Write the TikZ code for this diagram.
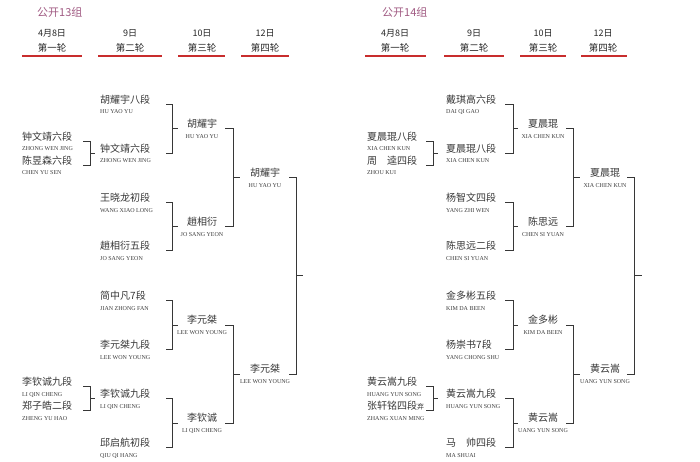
\documentclass[tikz,border=0pt]{standalone}
\usepackage{fontspec}
\setmainfont{Liberation Serif}
\newfontfamily\cjk{Noto Sans CJK SC}
\usetikzlibrary{calc}
\definecolor{titlec}{RGB}{160,90,130}
\definecolor{linec}{RGB}{55,55,55}
\definecolor{redc}{RGB}{200,45,45}
\definecolor{txtc}{RGB}{55,55,55}
\definecolor{pyc}{RGB}{60,60,60}
\tikzset{
 cn/.style={inner sep=0pt, font=\cjk\fontsize{10}{10}\selectfont, text=txtc, text height=8.3pt, text depth=0.7pt},
 py/.style={inner sep=0pt, font=\fontsize{6}{6}\selectfont, text=pyc, text height=4pt, text depth=0pt},
 br/.style={draw=linec, line width=1pt},
 ul/.style={draw=redc, line width=1.6pt},
 hd/.style={inner sep=0pt, font=\cjk\fontsize{9}{9}\selectfont, text=black!85},
 ttl/.style={inner sep=0pt, anchor=west, font=\cjk\fontsize{11}{11}\selectfont, text=titlec},
}
% name, x, line y, anchor, chinese, pinyin
\newcommand\plr[6]{%
 \node[cn,anchor=#4] (#1) at (#2,#3-5) {#5};
 \node[py,anchor=#4] (#1p) at (#2,#3+7.5) {#6};}
% coordA, coordB, dx, tick
\newcommand\brk[4]{%
 \draw[br] (#1) -- ++(#3,0) |- (#2);
 \draw[br] ($(#1)!.5!(#2)+(#3,0)$) -- ++(#4,0);}
\begin{document}
\begin{tikzpicture}[x=1pt,y=-1pt]
\useasboundingbox (0,0) rectangle (700,462);
% ---------- titles ----------
\node[ttl] (t13) at (37,12) {公开13组};
\node[ttl] (t14) at (382,12) {公开14组};
% ---------- headers ----------
\foreach \n/\cx/\xa/\xb/\d/\r in {a/52/22/82/4月8日/第一轮, b/130/98/162/9日/第二轮, c/202/178/225/10日/第三轮, d/265/241/289/12日/第四轮}{
 \node[hd] (hl\n) at (\cx,33) {\d};
 \node[hd,font=\cjk\fontsize{9.5}{9.5}\selectfont] (rl\n) at (\cx,48) {\r};
 \draw[ul] (\xa,56) -- (\xb,56);
}
\foreach \n/\cx/\xa/\xb/\d/\r in {a/395/365/426/4月8日/第一轮, b/474/444/504/9日/第二轮, c/543/520/566/10日/第三轮, d/603/581/627/12日/第四轮}{
 \node[hd] (hr\n) at (\cx,33) {\d};
 \node[hd,font=\cjk\fontsize{9.5}{9.5}\selectfont] (rr\n) at (\cx,48) {\r};
 \draw[ul] (\xa,56) -- (\xb,56);
}
% ================= LEFT PANEL =================
% round 1
\plr{La1}{22}{141.5}{west}{钟文靖六段}{ZHONG WEN JING}
\plr{La2}{22}{165.5}{west}{陈昱森六段}{CHEN YU SEN}
\plr{La3}{22}{386.5}{west}{李钦诚九段}{LI QIN CHENG}
\plr{La4}{22}{410.5}{west}{郑子皓二段}{ZHENG YU HAO}
\coordinate (cLa1) at (83,141.5);
\coordinate (cLa2) at (83,165.5);
\coordinate (cLa3) at (83,386.5);
\coordinate (cLa4) at (83,410.5);
\brk{cLa1}{cLa2}{7}{5}
\brk{cLa3}{cLa4}{7}{5}
% round 2
\plr{Lb1}{100}{104.5}{west}{胡耀宇八段}{HU YAO YU}
\plr{Lb2}{100}{153.5}{west}{钟文靖六段}{ZHONG WEN JING}
\plr{Lb3}{100}{202.5}{west}{王晓龙初段}{WANG XIAO LONG}
\plr{Lb4}{100}{250.5}{west}{趙相衍五段}{JO SANG YEON}
\plr{Lb5}{100}{300.5}{west}{简中凡7段}{JIAN ZHONG FAN}
\plr{Lb6}{100}{349.5}{west}{李元桀九段}{LEE WON YOUNG}
\plr{Lb7}{100}{398.5}{west}{李钦诚九段}{LI QIN CHENG}
\plr{Lb8}{100}{447.5}{west}{邱启航初段}{QIU QI HANG}
\foreach \i/\y in {1/104.5,2/153.5,3/202.5,4/250.5,5/300.5,6/349.5,7/398.5,8/447.5}{
 \coordinate (cLb\i) at (166,\y);}
\brk{cLb1}{cLb2}{6}{6}
\brk{cLb3}{cLb4}{6}{6}
\brk{cLb5}{cLb6}{6}{6}
\brk{cLb7}{cLb8}{6}{6}
% round 3
\plr{Lc1}{202}{129}{center}{胡耀宇}{HU YAO YU}
\plr{Lc2}{202}{226.5}{center}{趙相衍}{JO SANG YEON}
\plr{Lc3}{202}{325}{center}{李元桀}{LEE WON YOUNG}
\plr{Lc4}{202}{423}{center}{李钦诚}{LI QIN CHENG}
\foreach \i/\y in {1/129,2/226.5,3/325,4/423}{
 \coordinate (cLc\i) at (225,\y);}
\brk{cLc1}{cLc2}{8}{7}
\brk{cLc3}{cLc4}{8}{7}
% round 4
\plr{Ld1}{265}{177.75}{center}{胡耀宇}{HU YAO YU}
\plr{Ld2}{265}{374}{center}{李元桀}{LEE WON YOUNG}
\coordinate (cLd1) at (289,177.75);
\coordinate (cLd2) at (289,374);
\brk{cLd1}{cLd2}{7}{7}
% ================= RIGHT PANEL =================
% round 1
\plr{Ra1}{367}{141.5}{west}{夏晨琨八段}{XIA CHEN KUN}
\plr{Ra2}{367}{165.5}{west}{周　逵四段}{ZHOU KUI}
\plr{Ra3}{367}{386.5}{west}{黄云嵩九段}{HUANG YUN SONG}
\plr{Ra4}{367}{410.5}{west}{张轩铭四段{\fontsize{7}{7}\selectfont 弃}}{ZHANG XUAN MING}
\coordinate (cRa1) at (426,141.5);
\coordinate (cRa2) at (426,165.5);
\coordinate (cRa3) at (426,386.5);
\coordinate (cRa4) at (426,410.5);
\brk{cRa1}{cRa2}{7}{5}
\brk{cRa3}{cRa4}{7}{5}
% round 2
\plr{Rb1}{446}{104.5}{west}{戴琪高六段}{DAI QI GAO}
\plr{Rb2}{446}{153.5}{west}{夏晨琨八段}{XIA CHEN KUN}
\plr{Rb3}{446}{202.5}{west}{杨智文四段}{YANG ZHI WEN}
\plr{Rb4}{446}{250.5}{west}{陈思远二段}{CHEN SI YUAN}
\plr{Rb5}{446}{300.5}{west}{金多彬五段}{KIM DA BEEN}
\plr{Rb6}{446}{349.5}{west}{杨崇书7段}{YANG CHONG SHU}
\plr{Rb7}{446}{398.5}{west}{黄云嵩九段}{HUANG YUN SONG}
\plr{Rb8}{446}{447.5}{west}{马　帅四段}{MA SHUAI}
\foreach \i/\y in {1/104.5,2/153.5,3/202.5,4/250.5,5/300.5,6/349.5,7/398.5,8/447.5}{
 \coordinate (cRb\i) at (505,\y);}
\brk{cRb1}{cRb2}{8}{5}
\brk{cRb3}{cRb4}{8}{5}
\brk{cRb5}{cRb6}{8}{5}
\brk{cRb7}{cRb8}{8}{5}
% round 3
\plr{Rc1}{543}{129}{center}{夏晨琨}{XIA CHEN KUN}
\plr{Rc2}{543}{226.5}{center}{陈思远}{CHEN SI YUAN}
\plr{Rc3}{543}{325}{center}{金多彬}{KIM DA BEEN}
\plr{Rc4}{543}{423}{center}{黄云嵩}{UANG YUN SONG}
\foreach \i/\y in {1/129,2/226.5,3/325,4/423}{
 \coordinate (cRc\i) at (566,\y);}
\brk{cRc1}{cRc2}{7}{7}
\brk{cRc3}{cRc4}{7}{7}
% round 4
\plr{Rd1}{605}{177.75}{center}{夏晨琨}{XIA CHEN KUN}
\plr{Rd2}{605}{374}{center}{黄云嵩}{UANG YUN SONG}
\coordinate (cRd1) at (627,177.75);
\coordinate (cRd2) at (627,374);
\brk{cRd1}{cRd2}{7}{8}
\end{tikzpicture}
\end{document}
